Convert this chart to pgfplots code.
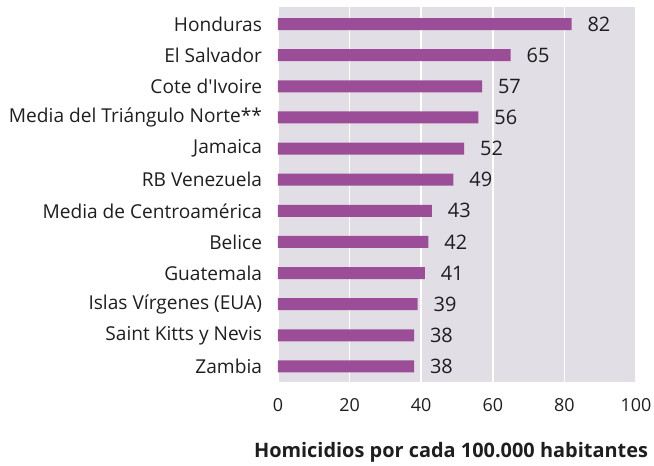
\documentclass[border=0pt]{standalone}
\usepackage{pgfplots}
\pgfplotsset{compat=1.18}
\usepackage{fontspec}
\setmainfont{Open Sans}
\definecolor{barc}{RGB}{155,78,151}
\definecolor{bgc}{RGB}{225,222,230}
\definecolor{txt}{RGB}{30,30,30}
\begin{document}
\fontsize{17.5}{20}\selectfont
\begin{tikzpicture}
\begin{axis}[
  scale only axis,
  width=358bp, height=375bp,
  xmin=0, xmax=100,
  ymin=-0.55, ymax=11.5,
  y dir=reverse,
  xbar, bar width=12bp,
  axis background/.style={fill=bgc},
  axis line style={draw=none},
  major tick length=0pt,
  xtick={0,20,40,60,80,100},
  xmajorgrids, grid style={white, line width=1.6bp},
  ytick={0,...,11},
  yticklabels={Honduras,El Salvador,Cote d\textquotesingle Ivoire,Media del Triángulo Norte**,Jamaica,RB Venezuela,Media de Centroamérica,Belice,Guatemala,Islas Vírgenes (EUA),Saint Kitts y Nevis,Zambia},
  yticklabel style={anchor=east, xshift=-10bp, text=txt, font=\fontsize{19.2}{22}\selectfont},
  xticklabel style={text=txt, yshift=-10bp, font=\fontsize{18}{20}\selectfont},
  /pgf/number format/assume math mode=true,
  xlabel={\textbf{Homicidios por cada 100.000 habitantes}},
  xlabel style={text=txt, font=\fontsize{20}{22}\selectfont, yshift=-19bp, xshift=-6bp},
  nodes near coords,
  nodes near coords style={anchor=west, xshift=10bp, text=txt, font=\fontsize{20}{22}\selectfont},
  point meta=explicit symbolic,
]
\addplot[fill=barc, draw=none] coordinates {
(82,0)[82] (65,1)[65] (57,2)[57] (56,3)[56] (52,4)[52] (49,5)[49]
(43,6)[43] (42,7)[42] (41,8)[41] (39,9)[39] (38,10)[38] (38,11)[38]};
\end{axis}
\pgfresetboundingbox
\path ([shift={(-278bp,-84bp)}]current axis.south west) rectangle ([shift={(18bp,7bp)}]current axis.north east);
\end{tikzpicture}
\end{document}
